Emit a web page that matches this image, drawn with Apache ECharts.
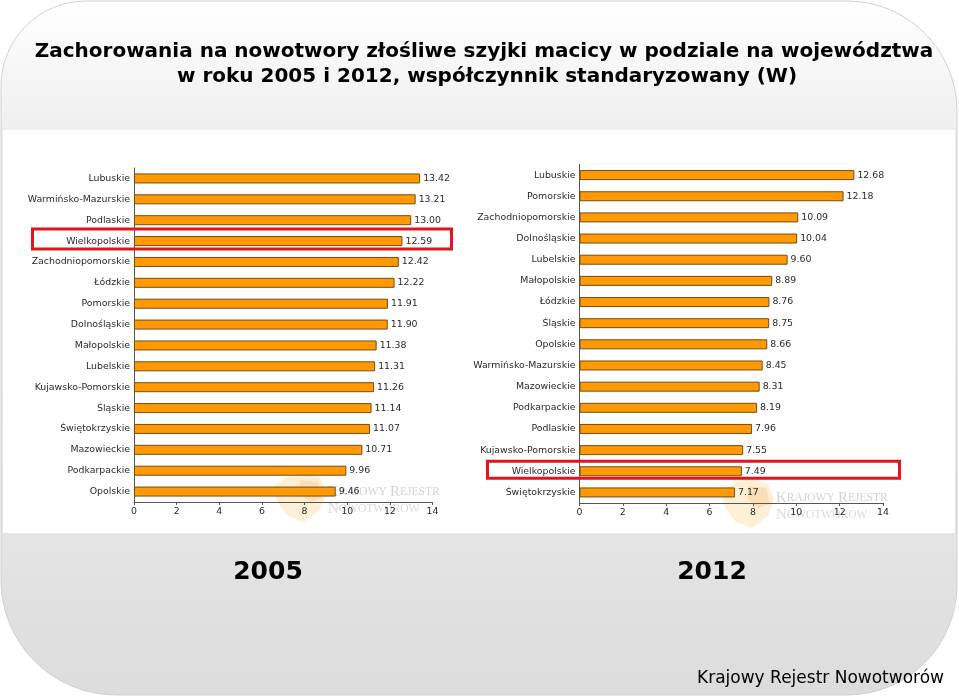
<!DOCTYPE html>
<html><head><meta charset="utf-8">
<script src="https://cdn.jsdelivr.net/npm/echarts@6/dist/echarts.min.js"></script>
<style>html,body{margin:0;padding:0;background:#fff}#c{width:959px;height:697px}</style>
</head><body><div id="c"></div>
<script>
// ---- data ----
const regions2005 = ['Lubuskie','Warmińsko-Mazurskie','Podlaskie','Wielkopolskie','Zachodniopomorskie','Łódzkie','Pomorskie','Dolnośląskie','Małopolskie','Lubelskie','Kujawsko-Pomorskie','Śląskie','Świętokrzyskie','Mazowieckie','Podkarpackie','Opolskie'];
const values2005 = [13.42,13.21,13.00,12.59,12.42,12.22,11.91,11.90,11.38,11.31,11.26,11.14,11.07,10.71,9.96,9.46];
const regions2012 = ['Lubuskie','Pomorskie','Zachodniopomorskie','Dolnośląskie','Lubelskie','Małopolskie','Łódzkie','Śląskie','Opolskie','Warmińsko-Mazurskie','Mazowieckie','Podkarpackie','Podlaskie','Kujawsko-Pomorskie','Wielkopolskie','Świętokrzyskie'];
const values2012 = [12.68,12.18,10.09,10.04,9.60,8.89,8.76,8.75,8.66,8.45,8.31,8.19,7.96,7.55,7.49,7.17];
const xMin = 0, xMax = 14, xStep = 2;
const highlighted = 'Wielkopolskie';
const titleLines = ['Zachorowania na nowotwory złośliwe szyjki macicy w podziale na województwa','w roku 2005 i 2012, współczynnik standaryzowany (W)'];
const yearLabels = ['2005','2012'];
const sourceLabel = 'Krajowy Rejestr Nowotworów';

// ---- chart ----
const chart = echarts.init(document.getElementById('c'), null, {renderer:'canvas'});
const AX = '#555', TXT = '#2a2a2a', FONT = '"DejaVu Sans", Verdana, sans-serif', FS = 9.4;

function xAxisCfg(gi){
  return {type:'value', gridIndex:gi, min:xMin, max:xMax, interval:xStep,
    axisLine:{show:true, lineStyle:{color:AX, width:1}},
    axisTick:{show:true, length:3, lineStyle:{color:AX}},
    splitLine:{show:false},
    axisLabel:{fontSize:FS, fontFamily:FONT, color:TXT, margin:5}};
}
function yAxisCfg(gi, cats){
  return {type:'category', gridIndex:gi, data:cats, inverse:true,
    axisLine:{show:true, lineStyle:{color:AX, width:1}},
    axisTick:{show:false}, splitLine:{show:false},
    axisLabel:{fontSize:FS, fontFamily:FONT, color:TXT, margin:4}};
}
function barSeries(i, vals){
  return {type:'bar', xAxisIndex:i, yAxisIndex:i, data:vals, barWidth:10,
    itemStyle:{color:'#FF9A05', borderColor:'#7A4A10', borderWidth:1},
    label:{show:true, position:'right', distance:3, fontSize:FS, fontFamily:FONT, color:TXT,
      formatter:p=>p.value.toFixed(2)},
    silent:true, animation:false};
}

function watermark(x, y){
  const serif = '"Liberation Serif", serif';
  return [
    {type:'polygon', z:-1, shape:{points:[[x,y+14],[x+14,y+4],[x+30,y],[x+46,y+6],[x+52,y+22],[x+46,y+38],[x+30,y+50],[x+14,y+44],[x+3,y+30]]},
      style:{fill:'rgba(252,200,110,0.28)'}},
    {type:'polygon', z:-1, shape:{points:[[x+26,y+8],[x+44,y+10],[x+48,y+26],[x+36,y+30],[x+26,y+22]]},
      style:{fill:'rgba(245,160,70,0.22)'}},
    {type:'text', z:-1, x:x+54, y:y+20, style:{text:'{a|K}{b|RAJOWY} {a|R}{b|EJESTR}', textVerticalAlign:'middle', fill:'#d4d4d4',
      rich:{a:{fontSize:15, fontFamily:serif, fill:'#d4d4d4'},
            b:{fontSize:11.5, fontFamily:serif, fill:'#d4d4d4'}}}},
    {type:'text', z:-1, x:x+54, y:y+37, style:{text:'{a|N}{b|OWOTWORÓW}', textVerticalAlign:'middle', fill:'#d9d9d9',
      rich:{a:{fontSize:15, fontFamily:serif, fill:'#d9d9d9'},
            b:{fontSize:11.5, fontFamily:serif, fill:'#d9d9d9'}}}}
  ];
}

const BOLD = '"DejaVu Sans", Verdana, sans-serif';
const graphics = [
  {type:'rect', z:-10, shape:{x:1, y:1, width:956, height:694, r:[85,110,110,115]},
    style:{fill:new echarts.graphic.LinearGradient(0,0,0,1,[
      {offset:0,color:'#ffffff'},{offset:0.19,color:'#eeeeee'},{offset:0.77,color:'#e4e4e4'},{offset:1,color:'#dcdcdc'}]),
      stroke:'#d0d0d0', lineWidth:1}},
  {type:'rect', z:-9, shape:{x:3, y:130, width:952, height:403}, style:{fill:'#ffffff'}},
  {type:'text', z:5, x:484, y:52, style:{text:titleLines[0], textAlign:'center', textVerticalAlign:'middle',
    fontSize:20, fontWeight:'bold', fontFamily:BOLD, fill:'#000'}},
  {type:'text', z:5, x:487, y:77, style:{text:titleLines[1], textAlign:'center', textVerticalAlign:'middle',
    fontSize:20, fontWeight:'bold', fontFamily:BOLD, fill:'#000'}},
  {type:'text', z:5, x:268, y:572, style:{text:yearLabels[0], textAlign:'center', textVerticalAlign:'middle',
    fontSize:25, fontWeight:'bold', fontFamily:BOLD, fill:'#000'}},
  {type:'text', z:5, x:712, y:572, style:{text:yearLabels[1], textAlign:'center', textVerticalAlign:'middle',
    fontSize:25, fontWeight:'bold', fontFamily:BOLD, fill:'#000'}},
  {type:'text', z:5, x:944, y:679, style:{text:sourceLabel, textAlign:'right', textVerticalAlign:'middle',
    fontSize:17, fontFamily:BOLD, fill:'#000'}},
  ...watermark(274, 472),
  ...watermark(722, 478)
];

chart.setOption({
  animation:false,
  grid:[
    {left:134, top:168, width:298.5, height:334},
    {left:579.5, top:164.5, width:303.5, height:338.5}
  ],
  xAxis:[xAxisCfg(0), xAxisCfg(1)],
  yAxis:[yAxisCfg(0, regions2005), yAxisCfg(1, regions2012)],
  series:[barSeries(0, values2005), barSeries(1, values2012)],
  graphic:{elements:graphics}
});

// highlight boxes around the selected region, positioned from the axis scale
const y1 = chart.convertToPixel({yAxisIndex:0}, highlighted);
const y2 = chart.convertToPixel({yAxisIndex:1}, highlighted);
chart.setOption({graphic:{elements:[
  {id:'hl1', type:'rect', z:6, shape:{x:32.5, y:y1-12, width:419, height:20},
    style:{fill:'none', stroke:'#E3141B', lineWidth:3}},
  {id:'hl2', type:'rect', z:6, shape:{x:487.5, y:y2-10, width:412, height:17},
    style:{fill:'none', stroke:'#E3141B', lineWidth:3}}
]}});
</script>
</body></html>
